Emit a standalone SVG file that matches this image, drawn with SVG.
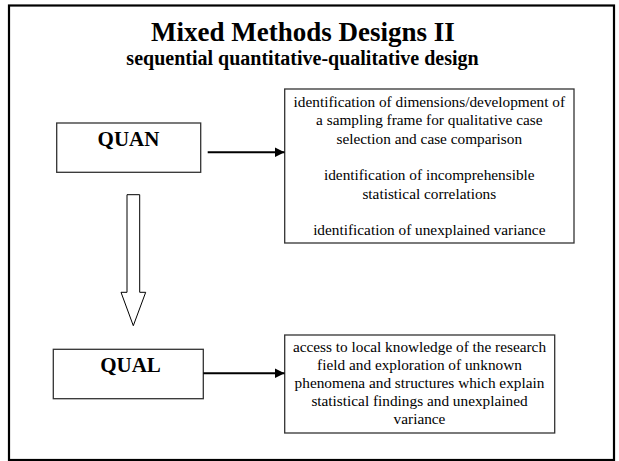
<svg xmlns="http://www.w3.org/2000/svg" width="619" height="461" viewBox="0 0 619 461">
<defs>
<style>
.frame{fill:#fff;stroke:#000;stroke-width:2.2}
.box{fill:#fff;stroke:#333;stroke-width:1.3}
.t{font-family:"Liberation Serif","Times New Roman",serif;fill:#000;text-anchor:middle}
.b{font-weight:bold}
.body{font-size:15.3px}
.conn{stroke:#000;stroke-width:2;fill:none}
.hollow{fill:#fff;stroke:#000;stroke-width:1}
</style>
<marker id="ah" viewBox="0 0 10 10" refX="10" refY="5" markerUnits="userSpaceOnUse" markerWidth="10" markerHeight="10" orient="auto">
<path d="M0,0 L10,5 L0,10 Z" fill="#000"/>
</marker>
</defs>
<rect x="0" y="0" width="619" height="461" fill="#fff"/>
<rect class="frame" x="9" y="5.5" width="605" height="454.5"/>
<g id="title">
<text class="t b" x="303" y="41" font-size="27">Mixed Methods Designs II</text>
<text class="t b" x="302.5" y="65" font-size="20">sequential quantitative-qualitative design</text>
</g>
<g id="quan">
<rect class="box" x="56.7" y="123" width="144" height="49.3"/>
<text class="t b" x="128.5" y="146" font-size="21">QUAN</text>
</g>
<g id="qual">
<rect class="box" x="53.3" y="349.3" width="150" height="49.4"/>
<text class="t b" x="130.5" y="372" font-size="21">QUAL</text>
</g>
<g id="quan-outcomes">
<rect class="box" x="284.7" y="89" width="289.3" height="154"/>
<text class="t body" x="429.3" y="107">identification of dimensions/development of</text>
<text class="t body" x="429.3" y="125.3">a sampling frame for qualitative case</text>
<text class="t body" x="429.3" y="143.6">selection and case comparison</text>
<text class="t body" x="429.3" y="180.2">identification of incomprehensible</text>
<text class="t body" x="429.3" y="198.5">statistical correlations</text>
<text class="t body" x="429.3" y="235.1">identification of unexplained variance</text>
</g>
<g id="qual-outcomes">
<rect class="box" x="284.7" y="335" width="270" height="98"/>
<text class="t body" x="419.5" y="352.3">access to local knowledge of the research</text>
<text class="t body" x="419.5" y="370.3">field and exploration of unknown</text>
<text class="t body" x="419.5" y="388.3">phenomena and structures which explain</text>
<text class="t body" x="419.5" y="406.3">statistical findings and unexplained</text>
<text class="t body" x="419.5" y="424.3">variance</text>
</g>
<g id="connectors">
<line class="conn" x1="207.7" y1="152.3" x2="284.5" y2="152.3" marker-end="url(#ah)"/>
<line class="conn" x1="203.3" y1="373.3" x2="284.5" y2="373.3" marker-end="url(#ah)"/>
<path class="hollow" d="M127,194.7 L139.7,194.7 L139.7,292.3 L145.7,292.3 L133.3,325.7 L121,292.3 L127,292.3 Z"/>
</g>
</svg>
